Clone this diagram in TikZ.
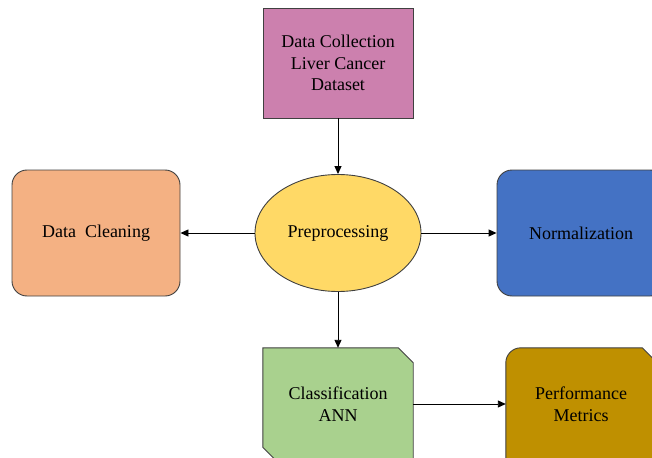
\documentclass[tikz,border=0pt]{standalone}
\usepackage{fontspec}
\setmainfont{Liberation Serif}
\usetikzlibrary{arrows.meta,shapes.geometric,calc}
\pgfdeclarelayer{bg}
\pgfsetlayers{bg,main}
\definecolor{pinkc}{RGB}{204,128,174}
\definecolor{yellowc}{RGB}{255,217,102}
\definecolor{orangec}{RGB}{244,177,131}
\definecolor{bluec}{RGB}{68,114,196}
\definecolor{greenc}{RGB}{169,209,142}
\definecolor{goldc}{RGB}{191,144,0}
\definecolor{edgec}{RGB}{64,64,64}
\tikzset{
  lbl/.style={align=center, font=\fontsize{18}{21.7}\selectfont, inner sep=0pt},
  boxc/.style={lbl, draw=edgec, line width=0.9pt},
  plainbox/.style={lbl, minimum width=150pt, minimum height=112pt},
  shapeline/.style={draw=edgec, line width=0.9pt},
  arr/.style={draw=black, line width=0.9pt, -{Triangle[length=8pt,width=7pt]}}
}
\begin{document}
\begin{tikzpicture}[x=1pt,y=-1pt]
\useasboundingbox (0,0) rectangle (652,457);
\clip (0,0) rectangle (652,457);
\node[boxc, fill=pinkc, minimum width=150pt, minimum height=110pt] (dc) at (338,63) {Data Collection\\Liver Cancer\\Dataset};
\node[boxc, ellipse, fill=yellowc, minimum width=166pt, minimum height=117pt] (pre) at (338,233) {Preprocessing};
\node[boxc, rounded corners=15pt, fill=orangec, minimum width=168pt, minimum height=126pt] (clean) at (96,233) {Data~~Cleaning};
\node[boxc, rounded corners=15pt, fill=bluec, minimum width=168pt, minimum height=126pt] (norm) at (581,233) {Normalization};
\node[plainbox] (cls) at (338,404) {Classification\\ANN};
\node[plainbox] (perf) at (581,404) {Performance\\Metrics};
\begin{pgfonlayer}{bg}
\path[shapeline, fill=greenc] (cls.north west) -- ($(cls.north east)+(-15,0)$) -- ($(cls.north east)+(0,15)$) -- (cls.south east) -- ($(cls.south west)+(13,0)$) -- ($(cls.south west)+(0,-13)$) -- cycle;
\path[shapeline, fill=goldc] (perf.south west) -- ($(perf.north west)+(0,15)$) arc[start angle=180, end angle=90, radius=15pt] -- ($(perf.north east)+(-14,0)$) -- ($(perf.north east)+(0,14)$) -- (perf.south east) -- cycle;
\end{pgfonlayer}
\draw[arr] (dc) -- (pre);
\draw[arr] (pre.west) -- (clean.east);
\draw[arr] (pre.east) -- (norm.west);
\draw[arr] (pre) -- (cls);
\draw[arr] (cls) -- (perf);
\end{tikzpicture}
\end{document}
